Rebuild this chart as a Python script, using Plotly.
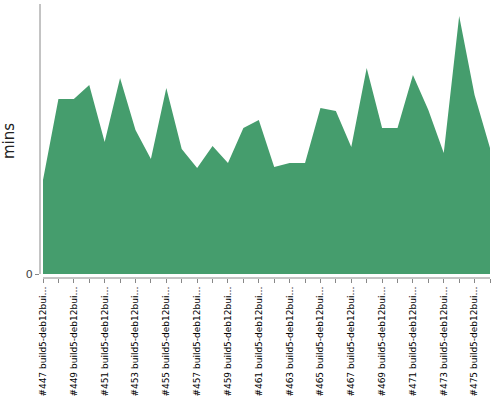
import plotly.graph_objects as go

builds = [447, 448, 449, 450, 451, 452, 453, 454, 455, 456,
          457, 458, 459, 460, 461, 462, 463, 464, 465, 466,
          467, 468, 469, 470, 471, 472, 473, 474, 475, 476]
categories = ["#%d build5-deb12bui\u2026" % b for b in builds]
minutes = [9.4, 17.5, 17.5, 18.9, 13.2, 19.6, 14.4, 11.5, 18.6, 12.5,
           10.6, 12.8, 11.1, 14.6, 15.4, 10.7, 11.1, 11.1, 16.6, 16.3,
           12.7, 20.6, 14.6, 14.6, 19.9, 16.4, 12.1, 25.8, 17.9, 12.6]
tick_text = [c if i % 2 == 0 else "" for i, c in enumerate(categories)]

fig = go.Figure()
fig.add_trace(go.Scatter(
    x=categories, y=minutes, mode="lines", fill="tozeroy",
    line=dict(width=0, color="#459D6D"), fillcolor="#459D6D",
    hoverinfo="x+y",
))

fig.update_layout(
    width=500, height=400,
    margin=dict(l=40, r=9, t=4, b=122),
    paper_bgcolor="white", plot_bgcolor="white",
    showlegend=False,
    font=dict(family="DejaVu Sans, sans-serif"),
    xaxis=dict(
        type="category", range=[-0.195, 29.065], automargin=False,
        tickmode="array", tickvals=categories, ticktext=tick_text,
        tickangle=-90, tickfont=dict(size=9, color="black"),
        ticks="outside", ticklen=4, tickcolor="#888", tickwidth=1,
        showgrid=False, showline=False, zeroline=False,
    ),
    yaxis=dict(
        range=[-0.4, 27], tickvals=[0], ticktext=["0"], automargin=False,
        tickfont=dict(size=11, color="#444"),
        ticks="outside", ticklen=4, tickcolor="#888",
        showgrid=False, showline=False, zeroline=False,
        title=dict(text="mins", font=dict(size=15, color="#222"), standoff=7),
    ),
    shapes=[
        dict(type="line", xref="paper", yref="y", x0=0, x1=0, y0=0, y1=27,
             line=dict(color="#888", width=1)),
        dict(type="line", xref="x", yref="paper", x0=0, x1=29, y0=0, y1=0,
             line=dict(color="#888", width=1)),
    ],
)

fig.write_html(
    "out.html",
    config={"displayModeBar": False},
    post_script="document.body.style.margin='0';document.body.style.padding='0';",
)
